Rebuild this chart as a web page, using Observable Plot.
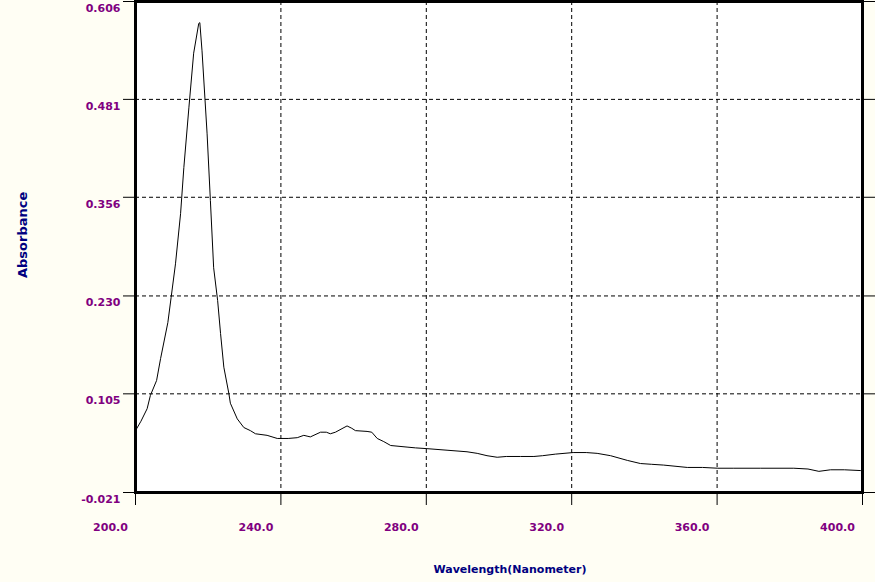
<!DOCTYPE html>
<html>
<head>
<meta charset="utf-8">
<script src="https://cdn.jsdelivr.net/npm/d3@7"></script>
<script src="https://cdn.jsdelivr.net/npm/@observablehq/plot@0.6"></script>
<style>
  html, body { margin: 0; padding: 0; background: #fffef4; }
</style>
</head>
<body>
<div id="chart"></div>
<script>
const wavelength = [200.0, 201.5, 203.2, 204.1, 205.8, 206.9, 208.9, 209.8, 211.0, 212.4, 213.3, 214.7, 216.0, 217.4, 217.7,
  218.3, 219.7, 220.6, 221.5, 222.6, 223.4, 224.3, 225.7, 226.1, 228.0, 229.8, 231.6, 233.0, 236.2, 239.0, 242.0,
  244.5, 246.3, 247.2, 248.1, 250.9, 252.5, 253.6, 255.0, 258.2, 259.5, 260.5, 263.7, 265.0, 266.5, 268.3, 270.2,
  274.7, 277.0, 280.2, 285.7, 291.2, 294.0, 296.7, 299.5, 302.0, 305.9, 309.6, 312.0, 315.5, 320.4, 324.0, 327.0,
  330.7, 335.3, 338.9, 342.0, 345.3, 351.8, 356.0, 360.2, 364.6, 372.0, 381.1, 385.0, 388.0, 391.2, 395.0, 399.5, 400.0];
const absorbance = [0.058, 0.070, 0.086, 0.103, 0.122, 0.150, 0.196, 0.228, 0.271, 0.335, 0.394, 0.471, 0.540, 0.578, 0.579,
  0.543, 0.437, 0.352, 0.266, 0.224, 0.182, 0.139, 0.105, 0.093, 0.073, 0.062, 0.058, 0.054, 0.052, 0.048, 0.048,
  0.049, 0.052, 0.051, 0.050, 0.056, 0.056, 0.054, 0.056, 0.064, 0.061, 0.058, 0.057, 0.056, 0.048, 0.044, 0.039,
  0.037, 0.036, 0.035, 0.033, 0.031, 0.029, 0.026, 0.024, 0.025, 0.025, 0.025, 0.026, 0.028, 0.030, 0.030, 0.029,
  0.026, 0.020, 0.016, 0.015, 0.014, 0.011, 0.011, 0.010, 0.010, 0.010, 0.010, 0.009, 0.006, 0.008, 0.008, 0.007, 0.007];
const xTicks = [200, 240, 280, 320, 360, 400];
const yTicks = [-0.021, 0.105, 0.230, 0.356, 0.481, 0.606];
const xGrid = [240, 280, 320, 360];
const yGrid = [0.105, 0.230, 0.356, 0.481];
const xTitle = "Wavelength(Nanometer)";
const yTitle = "Absorbance";

const data = wavelength.map((w, i) => ({w, a: absorbance[i]}));
const purple = "#800080";
const navy = "#000080";

const chart = Plot.plot({
  width: 875,
  height: 582,
  marginTop: 1,
  marginLeft: 135,
  marginRight: 13,
  marginBottom: 90,
  x: {domain: [200, 400]},
  y: {domain: [-0.021, 0.606]},
  style: {background: "#fffef4", fontFamily: "'DejaVu Sans', sans-serif", fontSize: "11px", fontWeight: "bold"},
  marks: [
    Plot.frame({fill: "white", stroke: null}),
    Plot.gridX(xGrid, {stroke: "black", strokeOpacity: 1, strokeDasharray: "4,3"}),
    Plot.gridY(yGrid, {stroke: "black", strokeOpacity: 1, strokeDasharray: "4,3"}),
    Plot.line(data, {x: "w", y: "a", stroke: "black", strokeWidth: 1}),
    Plot.frame({stroke: "black", strokeWidth: 3}),
    Plot.axisX(xTicks, {anchor: "bottom", tickSize: 13, tickFormat: () => "", label: null, stroke: "black"}),
    Plot.axisY(yTicks, {anchor: "left", tickSize: 12, tickFormat: () => "", label: null, stroke: "black"}),
    Plot.axisY(yTicks, {anchor: "right", tickSize: 13, tickFormat: () => "", label: null, stroke: "black"}),
    Plot.text(xTicks, {x: d => d, frameAnchor: "bottom", dy: 38, dx: -25, text: d => d.toFixed(1), fill: purple}),
    Plot.text(yTicks, {y: d => d, frameAnchor: "left", dx: -15, dy: 7, textAnchor: "end", text: d => d.toFixed(3), fill: purple}),
    Plot.text([xTitle], {frameAnchor: "bottom", dx: 11, dy: 80, text: d => d, fill: navy, fontSize: 11}),
    Plot.text([yTitle], {frameAnchor: "left", dx: -113, dy: 31, rotate: -90, text: d => d, fill: navy, fontSize: 13})
  ]
});
document.getElementById("chart").appendChild(chart);
</script>
</body>
</html>
